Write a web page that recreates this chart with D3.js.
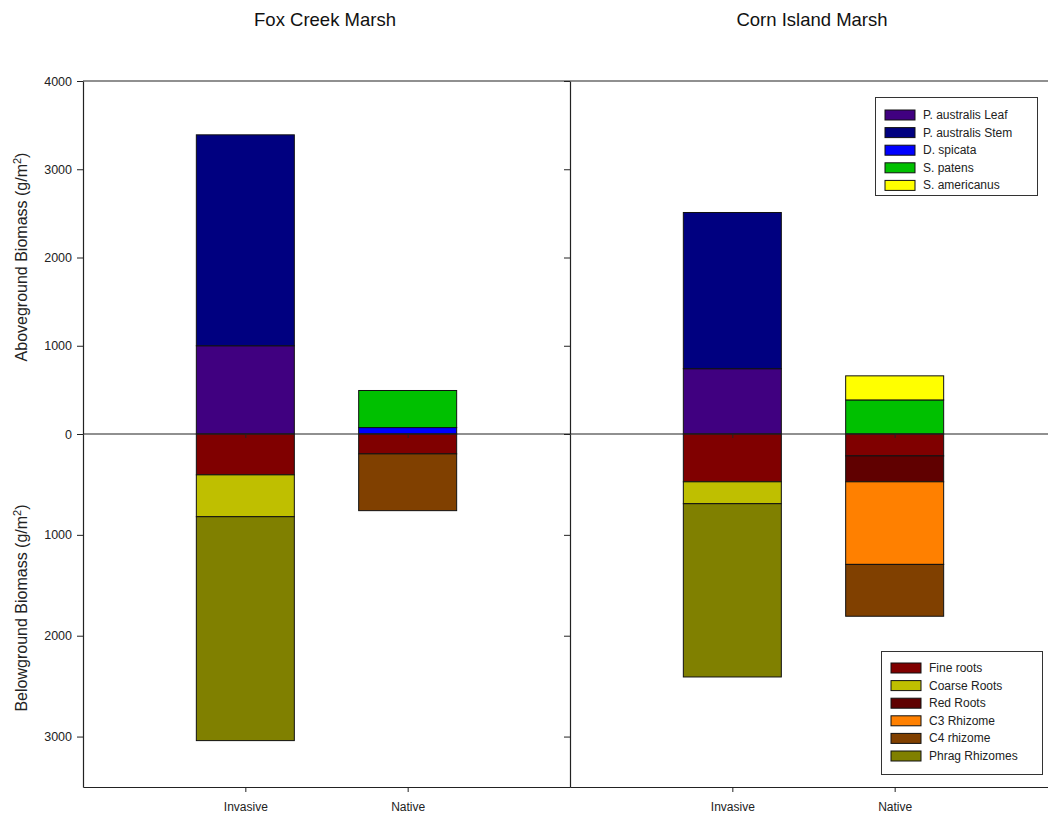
<!DOCTYPE html>
<html>
<head>
<meta charset="utf-8">
<script src="https://cdn.jsdelivr.net/npm/d3@7"></script>
<style>
  body { margin: 0; background: #fff; }
  svg { display: block; font-family: "Liberation Sans", Arial, sans-serif; }
</style>
</head>
<body>
<svg id="chart" width="1048" height="815"></svg>
<script>
// ---------- DATA ----------
const panels = ["Fox Creek Marsh", "Corn Island Marsh"];
const groups = ["Invasive", "Native"];
const aboveSeries = ["P. australis Leaf", "P. australis Stem", "D. spicata", "S. patens", "S. americanus"];
const aboveColors = ["#400080", "#000080", "#0000FF", "#00C000", "#FFFF00"];
const belowSeries = ["Fine roots", "Coarse Roots", "Red Roots", "C3 Rhizome", "C4 rhizome", "Phrag Rhizomes"];
const belowColors = ["#800000", "#BFBF00", "#600000", "#FF8000", "#804000", "#808000"];

// aboveground (g/m2), per group, in aboveSeries order
const foxAboveInvasive = [1000, 2390, 0, 0, 0];
const foxAboveNative   = [0, 0, 73, 420, 0];
const cornAboveInvasive = [740, 1770, 0, 0, 0];
const cornAboveNative   = [0, 0, 0, 386, 273];
// belowground (g/m2), per group, in belowSeries order
const foxBelowInvasive = [405, 415, 0, 0, 0, 2220];
const foxBelowNative   = [197, 0, 0, 0, 563, 0];
const cornBelowInvasive = [474, 217, 0, 0, 0, 1718];
const cornBelowNative   = [217, 0, 257, 819, 514, 0];

const aboveTicks = [0, 1000, 2000, 3000, 4000];
const belowTicks = [1000, 2000, 3000];

// ---------- LAYOUT ----------
const svg = d3.select("#chart");
const plotTop = 81, zeroY = 434, plotBottom = 787;
const panelW = 487;
const panelX = [83, 570];

const yAbove = d3.scaleLinear().domain([0, 4000]).range([zeroY, plotTop]);
const yBelow = d3.scaleLinear().domain([0, 3500]).range([zeroY, plotBottom]);

const panelData = [
  { above: [foxAboveInvasive, foxAboveNative], below: [foxBelowInvasive, foxBelowNative] },
  { above: [cornAboveInvasive, cornAboveNative], below: [cornBelowInvasive, cornBelowNative] }
];

function toRows(series, arrs) {
  return groups.map((g, gi) => {
    const row = { group: g };
    series.forEach((s, si) => row[s] = arrs[gi][si]);
    return row;
  });
}

panels.forEach((title, pi) => {
  const x0 = panelX[pi];
  const g = svg.append("g");
  const xc = d3.scalePoint().domain(groups).range([x0, x0 + panelW]).padding(1);
  const barW = 98;

  svg.append("text").attr("x", x0 + 242).attr("y", 26)
    .attr("text-anchor", "middle").attr("font-size", 18.5).attr("fill", "#111")
    .text(title);

  const aboveRows = toRows(aboveSeries, panelData[pi].above);
  const belowRows = toRows(belowSeries, panelData[pi].below);
  const stA = d3.stack().keys(aboveSeries)(aboveRows);
  const stB = d3.stack().keys(belowSeries)(belowRows);

  stA.forEach((layer, li) => {
    g.selectAll(null).data(layer.filter(d => d[1] - d[0] > 0)).enter().append("rect")
      .attr("x", d => xc(d.data.group) - barW / 2)
      .attr("width", barW)
      .attr("y", d => yAbove(d[1]))
      .attr("height", d => yAbove(d[0]) - yAbove(d[1]))
      .attr("fill", aboveColors[li])
      .attr("stroke", "#111").attr("stroke-width", 1);
  });
  stB.forEach((layer, li) => {
    g.selectAll(null).data(layer.filter(d => d[1] - d[0] > 0)).enter().append("rect")
      .attr("x", d => xc(d.data.group) - barW / 2)
      .attr("width", barW)
      .attr("y", d => yBelow(d[0]))
      .attr("height", d => yBelow(d[1]) - yBelow(d[0]))
      .attr("fill", belowColors[li])
      .attr("stroke", "#111").attr("stroke-width", 1);
  });

  g.append("line").attr("x1", x0).attr("x2", x0 + panelW).attr("y1", plotTop).attr("y2", plotTop)
    .attr("stroke", "#222").attr("stroke-width", 1.2);

  const zAxis = d3.axisBottom(xc).tickSize(4).tickFormat("");
  const zg = g.append("g").attr("transform", `translate(0,${zeroY})`).call(zAxis);
  zg.select(".domain").attr("stroke", "#222").attr("stroke-width", 1.2).attr("d", `M${x0},0H${x0 + panelW}`);
  zg.selectAll(".tick line").attr("stroke", "#222");

  const bAxis = d3.axisBottom(xc).tickSize(5).tickSizeOuter(0);
  const bg = g.append("g").attr("transform", `translate(0,${plotBottom})`).call(bAxis);
  bg.select(".domain").attr("stroke", "#222").attr("stroke-width", 1.2);
  bg.selectAll(".tick line").attr("stroke", "#222");
  bg.selectAll(".tick text").attr("font-size", 12).attr("fill", "#222")
    .attr("font-family", "'Liberation Sans', Arial, sans-serif").attr("dy", "1.35em");

  const aAxis = d3.axisLeft(yAbove).tickValues(aboveTicks).tickSize(6).tickSizeOuter(0).tickFormat(d3.format("d"));
  const ag = g.append("g").attr("transform", `translate(${x0},0)`).call(aAxis);
  ag.select(".domain").attr("stroke", "#222").attr("stroke-width", 1.2);
  ag.selectAll(".tick line").attr("stroke", "#222");
  ag.selectAll(".tick text").attr("font-size", 12.5).attr("fill", "#222")
    .attr("font-family", "'Liberation Sans', Arial, sans-serif").attr("x", -11);
  const blAxis = d3.axisLeft(yBelow).tickValues(belowTicks).tickSize(6).tickSizeOuter(0).tickFormat(d3.format("d"));
  const blg = g.append("g").attr("transform", `translate(${x0},0)`).call(blAxis);
  blg.select(".domain").attr("stroke", "#222").attr("stroke-width", 1.2);
  blg.selectAll(".tick line").attr("stroke", "#222");
  blg.selectAll(".tick text").attr("font-size", 12.5).attr("fill", "#222")
    .attr("font-family", "'Liberation Sans', Arial, sans-serif").attr("x", -11);
  if (pi === 1) {
    ag.selectAll(".tick text").remove();
    blg.selectAll(".tick text").remove();
  }
});

const aTitle = svg.append("text").attr("transform", `translate(27,257) rotate(-90)`)
  .attr("text-anchor", "middle").attr("font-size", 16).attr("fill", "#222");
aTitle.append("tspan").text("Aboveground Biomass (g/m");
aTitle.append("tspan").attr("dy", -6).attr("font-size", 11).text("2");
aTitle.append("tspan").attr("dy", 6).text(")");

const bTitle = svg.append("text").attr("transform", `translate(27,608) rotate(-90)`)
  .attr("text-anchor", "middle").attr("font-size", 16).attr("fill", "#222");
bTitle.append("tspan").text("Belowground Biomass (g/m");
bTitle.append("tspan").attr("dy", -6).attr("font-size", 11).text("2");
bTitle.append("tspan").attr("dy", 6).text(")");

function legend(x, y, w, h, series, colors, swX, txtX, row0, rowStep) {
  const lg = svg.append("g");
  lg.append("rect").attr("x", x).attr("y", y).attr("width", w).attr("height", h)
    .attr("fill", "#fff").attr("stroke", "#333").attr("stroke-width", 1);
  series.forEach((s, i) => {
    const cy = row0 + i * rowStep;
    lg.append("rect").attr("x", swX).attr("y", cy - 5).attr("width", 30).attr("height", 10)
      .attr("fill", colors[i]).attr("stroke", "#111").attr("stroke-width", 1);
    lg.append("text").attr("x", txtX).attr("y", cy + 4).attr("font-size", 12)
      .attr("fill", "#222").text(s);
  });
}
legend(875.5, 97.5, 162, 98, aboveSeries, aboveColors, 885, 923, 115, 17.6);
legend(881.5, 651.5, 161, 123, belowSeries, belowColors, 891, 929, 668, 17.6);
</script>
</body>
</html>
